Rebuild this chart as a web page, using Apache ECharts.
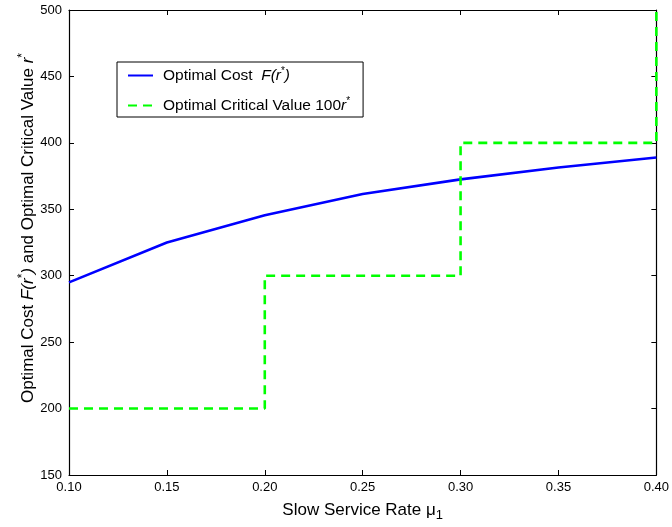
<!DOCTYPE html>
<html>
<head>
<meta charset="utf-8">
<script src="https://cdn.jsdelivr.net/npm/echarts@6/dist/echarts.min.js"></script>
<style>
html,body{margin:0;padding:0;background:#fff;}
#chart{width:672px;height:527px;}
</style>
</head>
<body>
<div id="chart"></div>
<script>
// Data
const muValues = [0.10, 0.15, 0.20, 0.25, 0.30, 0.35, 0.40];
const optimalCost = [295, 325, 345.5, 361.5, 372.5, 381.5, 389];
const stepMu = [0.10, 0.20, 0.20, 0.30, 0.30, 0.40, 0.40];
const criticalValue100 = [200, 200, 300, 300, 400, 400, 500];

const FONT = 'Liberation Sans, Arial, Helvetica, sans-serif';

const costData = muValues.map((m, i) => [m, optimalCost[i]]);
const critData = stepMu.map((m, i) => [m, criticalValue100[i]]);

const chart = echarts.init(document.getElementById('chart'), null, {renderer: 'canvas'});

const grid = {left: 69, right: 12, top: 10, bottom: 50};

const baseX = {
  type: 'value', min: 0.10, max: 0.40, interval: 0.05,
  axisLine: {show: true, onZero: false, lineStyle: {color: '#000', width: 1.2}},
  axisTick: {show: true, inside: true, length: 5, lineStyle: {color: '#000'}},
  splitLine: {show: false}
};
const baseY = {
  type: 'value', min: 150, max: 500, interval: 50,
  axisLine: {show: true, onZero: false, lineStyle: {color: '#000', width: 1.2}},
  axisTick: {show: true, inside: true, length: 5, lineStyle: {color: '#000'}},
  splitLine: {show: false}
};

const option = {
  backgroundColor: '#fff',
  animation: false,
  textStyle: {fontFamily: FONT},
  grid: grid,
  legend: {
    orient: 'vertical',
    left: 117, top: 62,
    padding: [4, 13, 2, 10],
    borderColor: '#000', borderWidth: 1,
    backgroundColor: '#fff',
    itemWidth: 25, itemHeight: 14, itemGap: 11,
    itemStyle: {opacity: 0},
    data: ['cost', 'crit'],
    formatter: function (name) {
      if (name === 'cost') return '{n|Optimal Cost  }{i|F(r}{s|*}{i|)}';
      return '{n|Optimal Critical Value 100}{i|r}{s|*}';
    },
    textStyle: {
      fontFamily: FONT, fontSize: 15.5, color: '#000',
      padding: [0, 0, 0, 5],
      rich: {
        n: {fontFamily: FONT, fontSize: 15.5, color: '#000', lineHeight: 18},
        i: {fontFamily: FONT, fontSize: 15.5, fontStyle: 'italic', color: '#000', lineHeight: 18},
        s: {fontFamily: FONT, fontSize: 10, color: '#000', padding: [0, 0, 9, 0], lineHeight: 18}
      }
    }
  },
  graphic: [{
    type: 'text',
    x: 28, y: 228,
    rotation: Math.PI / 2,
    silent: true,
    style: {
      text: '{n|Optimal Cost }{i|F(r}{s|*}{i|)}{n| and Optimal Critical Value }{i|r}{s|*}',
      align: 'center', verticalAlign: 'middle',
      fill: '#000',
      font: '17px ' + FONT,
      rich: {
        n: {fontFamily: FONT, fontSize: 17, fill: '#000', lineHeight: 20},
        i: {fontFamily: FONT, fontSize: 17, fontStyle: 'italic', fill: '#000', lineHeight: 20},
        s: {fontFamily: FONT, fontSize: 12, fill: '#000', padding: [0, 0, 10, 0], lineHeight: 20}
      }
    }
  }],
  xAxis: [
    Object.assign({}, baseX, {
      position: 'bottom',
      name: '{n|Slow Service Rate μ}{sub|1}',
      nameLocation: 'middle', nameGap: 24,
      nameTextStyle: {
        fontFamily: FONT, fontSize: 17, color: '#000',
        rich: {
          n: {fontFamily: FONT, fontSize: 17, color: '#000'},
          sub: {fontFamily: FONT, fontSize: 13, color: '#000', padding: [10, 0, 0, 0]}
        }
      },
      axisLabel: {
        show: true, margin: 6, color: '#000', fontSize: 13, fontFamily: FONT,
        formatter: v => v.toFixed(2)
      }
    }),
    Object.assign({}, baseX, {
      position: 'top',
      axisLabel: {show: false}
    })
  ],
  yAxis: [
    Object.assign({}, baseY, {
      position: 'left',
      axisLabel: {show: true, margin: 7, color: '#000', fontSize: 13, fontFamily: FONT}
    }),
    Object.assign({}, baseY, {
      position: 'right',
      axisLabel: {show: false}
    })
  ],
  series: [
    {
      name: 'cost', type: 'line', xAxisIndex: 0, yAxisIndex: 0,
      data: costData, showSymbol: false, symbol: 'none',
      lineStyle: {color: '#0000ff', width: 2.6},
      itemStyle: {color: '#0000ff'},
      z: 3
    },
    {
      name: 'crit', type: 'line', xAxisIndex: 0, yAxisIndex: 0,
      data: critData, showSymbol: false, symbol: 'none',
      lineStyle: {color: '#00ff00', width: 2.6, type: [9, 6]},
      itemStyle: {color: '#00ff00'},
      z: 4
    }
  ]
};
chart.setOption(option);
</script>
</body>
</html>
